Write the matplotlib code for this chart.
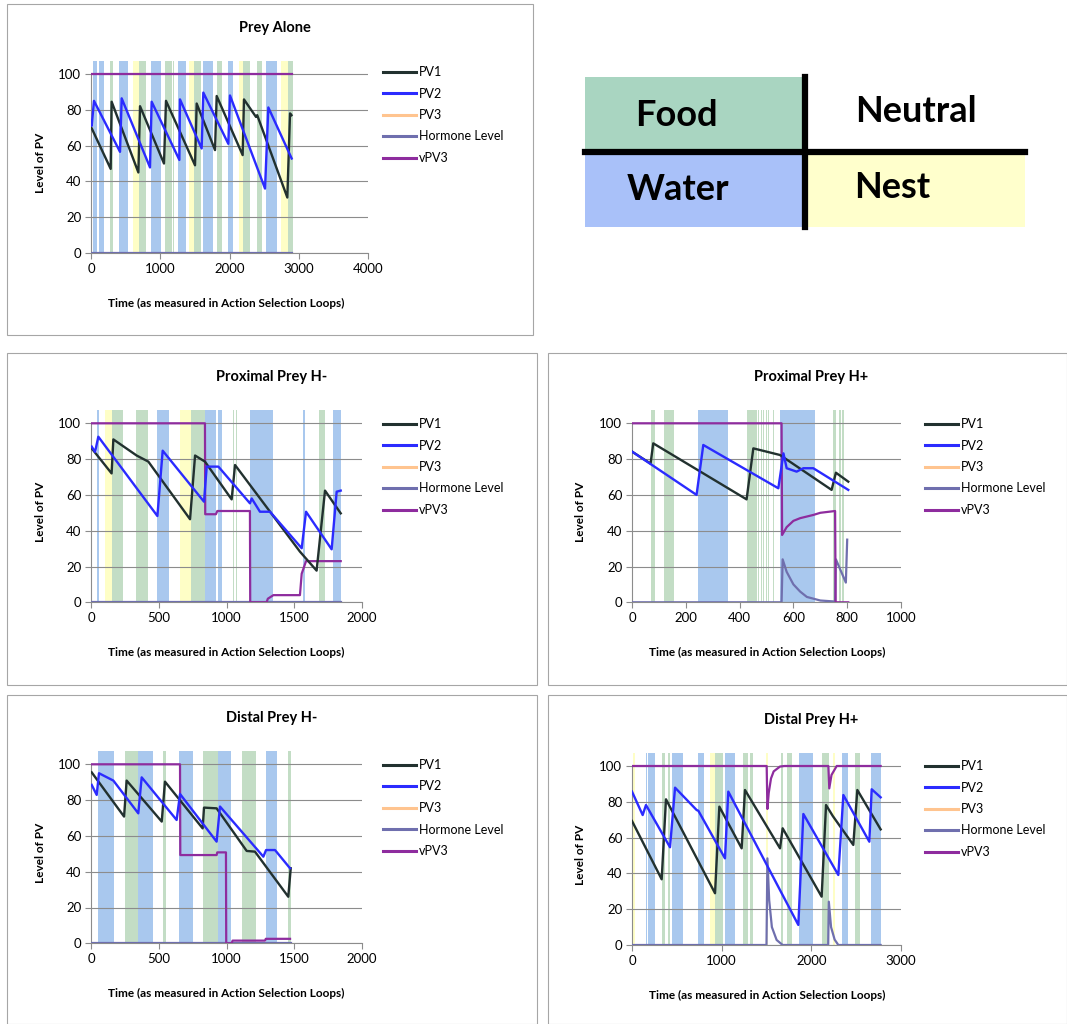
import numpy as np
import matplotlib
matplotlib.use("Agg")
import matplotlib.pyplot as plt
from matplotlib.lines import Line2D
from matplotlib.patches import Rectangle

plt.rcParams['font.family'] = ['Lato', 'DejaVu Sans']

# ---------------- data ----------------
series_names = ["PV1", "PV2", "PV3", "Hormone Level", "vPV3"]
series_colors = ["#22312f", "#2b2bff", "#ffc48f", "#6f6fae", "#8e2c9e"]
band_colors = {"W": "#a9c8ee", "F": "#c3ddc5", "N": "#fefec6"}

# Prey Alone
alone_pv1 = [(0, 70.5), (284, 47), (298, 84.5), (684, 45), (708, 82), (1054, 50), (1083, 85),
             (1502, 49), (1526, 83.5), (1791, 57.5), (1815, 87.7), (2190, 54.7), (2209, 85.8),
             (2383, 76), (2400, 77), (2835, 31), (2874, 78), (2895, 77)]
alone_pv2 = [(0, 74), (10, 71), (43, 85), (419, 56.5), (443, 86.4), (852, 47.8), (876, 84.5),
             (1276, 52), (1285, 85.8), (1598, 58.4), (1622, 89.6), (1983, 61), (2007, 88),
             (2513, 36), (2561, 81.3), (2898, 52.8)]
alone_hormone = [(0, 0), (2898, 0)]
alone_vpv3 = [(0, 100), (2898, 100)]
alone_bands = [(33, 91, "W"), (120, 188, "W"), (274, 313, "F"), (409, 539, "W"), (602, 698, "N"),
               (698, 794, "F"), (862, 1006, "W"), (1069, 1165, "F"), (1189, 1203, "F"),
               (1261, 1372, "W"), (1420, 1487, "N"), (1487, 1584, "F"), (1613, 1766, "W"),
               (1815, 1887, "F"), (1974, 2055, "W"), (2142, 2200, "N"), (2200, 2296, "F"),
               (2393, 2465, "F"), (2527, 2681, "W"), (2744, 2850, "N"), (2850, 2912, "F")]

# Proximal Prey H-
proxm_pv1 = [(5, 86), (152, 72), (165, 91), (337, 82), (423, 78.6), (731, 46.4), (768, 82),
             (841, 78.6), (1038, 57.5), (1063, 76.7), (1542, 28.3), (1665, 17.7), (1727, 62.4),
             (1843, 49.7)]
proxm_pv2 = [(5, 87), (30, 84), (54, 92.5), (490, 48.2), (529, 84.7), (834, 56.2), (854, 75.8),
             (940, 75.8), (1173, 55.3), (1186, 58), (1247, 50.6), (1321, 50.6), (1555, 30.2),
             (1587, 50.6), (1776, 29.6), (1813, 61.8), (1843, 62.4)]
proxm_hormone = [(0, 0), (1843, 0)]
proxm_vpv3 = [(0, 100), (841, 100), (843, 49.2), (922, 49.2), (932, 51), (1173, 51), (1175, 0),
              (1296, 0), (1305, 2), (1346, 4), (1542, 4), (1555, 16), (1587, 23), (1843, 23)]
proxm_bands = [(42, 59, "W"), (103, 153, "N"), (153, 234, "F"), (332, 423, "F"), (490, 578, "W"),
               (657, 738, "N"), (738, 841, "F"), (841, 922, "W"), (935, 964, "W"),
               (1045, 1055, "F"), (1070, 1080, "F"), (1173, 1346, "W"), (1562, 1579, "W"),
               (1680, 1690, "F"), (1690, 1727, "F"), (1788, 1843, "W")]

# Proximal Prey H+
proxp_pv1 = [(0, 84.2), (69, 77.5), (79, 88.8), (426, 57.5), (451, 86), (550, 82.3), (742, 62.8),
             (758, 72.4), (804, 67.4)]
proxp_pv2 = [(0, 84.2), (240, 60), (265, 87.9), (544, 63.7), (563, 83.2), (575, 74.9), (612, 73),
             (637, 74.9), (674, 74.9), (804, 62.8)]
proxp_hormone = [(0, 0), (556, 0), (560, 24), (575, 17), (600, 10), (625, 6), (650, 3),
                 (700, 1), (748, 0.5), (755, 0), (758, 24), (795, 11), (800, 35)]
proxp_vpv3 = [(0, 100), (556, 100), (558, 37.6), (575, 42), (600, 45.5), (625, 47), (674, 48.8),
              (700, 50), (755, 51), (757, 0), (804, 0)]
proxp_bands = [(69, 85, "F"), (120, 156, "F"), (244, 356, "W"), (426, 463, "F"), (469, 472, "F"),
               (479, 482, "F"), (488, 491, "F"), (497, 500, "F"), (507, 510, "F"),
               (515, 518, "F"), (524, 527, "F"), (534, 537, "F"), (550, 680, "W"),
               (748, 758, "F"), (770, 776, "F"), (782, 788, "F")]

# Distal Prey H-
distm_pv1 = [(5, 95.5), (244, 70.8), (263, 90.9), (522, 68), (546, 90.3), (824, 64.2),
             (834, 75.8), (927, 75.4), (1149, 51.6), (1210, 51.2), (1456, 26), (1474, 41.9)]
distm_pv2 = [(5, 88.5), (42, 82.9), (59, 95), (165, 90.9), (349, 72.6), (374, 92.7), (632, 68.9),
             (657, 83.4), (927, 56.8), (952, 76.4), (1272, 48.4), (1292, 52.1), (1358, 52.1),
             (1469, 41.9)]
distm_hormone = [(0, 0), (1474, 0)]
distm_vpv3 = [(0, 100), (657, 100), (659, 49.3), (927, 49.3), (932, 50.8), (996, 50.8), (998, 0),
              (1038, 0), (1045, 1.5), (1284, 1.5), (1290, 2.5), (1469, 2.5)]
distm_bands = [(49, 172, "W"), (251, 344, "F"), (349, 460, "W"), (529, 553, "F"), (649, 750, "W"),
               (824, 940, "F"), (940, 1033, "W"), (1112, 1215, "F"), (1292, 1370, "W"),
               (1456, 1474, "F")]

# Distal Prey H+
distp_pv1 = [(0, 69.3), (331, 36.7), (379, 81.4), (926, 28.9), (974, 77.3), (1223, 54),
             (1260, 86.6), (1651, 54), (1680, 65.2), (2115, 27), (2164, 78.2), (2240, 72),
             (2468, 55.9), (2513, 86.6), (2773, 64.6)]
distp_pv2 = [(0, 85.7), (119, 72.6), (156, 78.2), (424, 54.6), (480, 87.9), (721, 75.4),
             (740, 75), (1037, 48.4), (1074, 85.7), (1855, 11.2), (1911, 73.2), (2301, 39.1),
             (2357, 83.8), (2647, 57.7), (2673, 87), (2773, 82.5)]
distp_hormone = [(0, 0), (1500, 0), (1510, 48.4), (1530, 25), (1560, 10), (1613, 2.8),
                 (1680, 0), (2188, 0), (2195, 24.2), (2220, 10), (2260, 3), (2301, 0), (2773, 0)]
distp_vpv3 = [(0, 100), (1502, 100), (1510, 76), (1525, 85), (1550, 93), (1580, 97),
              (1651, 99.7), (1700, 100), (2190, 100), (2200, 87.5), (2225, 95), (2283, 100),
              (2773, 100)]
distp_bands = [(15, 33, "N"), (156, 171, "W"), (182, 257, "W"), (331, 368, "F"), (405, 424, "F"),
               (442, 565, "W"), (732, 803, "W"), (870, 926, "N"), (926, 1019, "F"),
               (1037, 1149, "W"), (1242, 1297, "F"), (1316, 1353, "F"), (1494, 1513, "N"),
               (1662, 1688, "F"), (1725, 1781, "F"), (1862, 2022, "W"), (2115, 2201, "F"),
               (2245, 2264, "N"), (2338, 2405, "W"), (2487, 2543, "F"), (2662, 2773, "W")]

W, H = 1067, 1024
fig = plt.figure(figsize=(W / 100, H / 100), dpi=100)


def fx(x):
    return x / W


def fy(y):
    return 1 - y / H


def panel(box, frame, xmax, xstep, title, bands, pv1, pv2, hormone, vpv3, legend_xy):
    l, r, b = box
    top = b - 107.5 * 1.79
    ax = fig.add_axes([fx(l), fy(b), fx(r) - fx(l), (b - top) / H])
    for s, e, k in bands:
        ax.axvspan(s, e, color=band_colors[k], lw=0, zorder=0.5)
    for pts, c, lw in [(hormone, series_colors[3], 1.6), (vpv3, series_colors[4], 1.6),
                       (pv1, series_colors[0], 1.7), (pv2, series_colors[1], 1.7)]:
        xs, ys = zip(*pts)
        ax.plot(xs, ys, color=c, lw=lw, zorder=3)
    ax.set_xlim(0, xmax)
    ax.set_ylim(0, 107.5)
    ax.set_xticks(np.arange(0, xmax + 1, xstep))
    ax.set_yticks(range(0, 101, 20))
    ax.yaxis.grid(True, color="#8c8c8c", lw=0.8)
    ax.set_axisbelow("line")
    for s in ["top", "right"]:
        ax.spines[s].set_visible(False)
    for s in ["left", "bottom"]:
        ax.spines[s].set_color("#8c8c8c")
        ax.spines[s].set_linewidth(0.8)
    ax.spines["left"].set_bounds(0, 100)
    ax.tick_params(direction="out", length=4, color="#8c8c8c", labelsize=9.5, pad=3)
    ax.patch.set_alpha(0)

    fl, ft, fr, fb = frame
    fig.add_artist(Rectangle((fx(fl), fy(fb)), fx(fr) - fx(fl), fy(ft) - fy(fb),
                             transform=fig.transFigure, fill=False, ec="#a6a6a6", lw=0.8))
    cx = (l + r) / 2
    fig.text(fx(cx + 45), fy(b - 225), title, ha="center", va="center",
             fontsize=10.5, fontweight="bold")
    fig.text(fx(l - 51), fy(b - 90), "Level of PV", rotation=90, ha="center", va="center",
             fontsize=8.5, fontweight="bold")
    fig.text(fx(l + 135), fy(b + 50), "Time (as measured in Action Selection Loops)",
             ha="center", va="center", fontsize=8.5, fontweight="bold")

    handles = [Line2D([], [], color=c, lw=2.2) for c in series_colors]
    lx, ly = legend_xy
    ax.legend(handles, series_names, loc="upper left", bbox_to_anchor=(fx(lx), fy(ly)),
              bbox_transform=fig.transFigure, frameon=False, fontsize=9, handlelength=2.6,
              handletextpad=0.3, labelspacing=0.76, borderpad=0, borderaxespad=0)
    return ax


panel((91, 368, 253), (7, 4, 533, 335), 4000, 1000, "Prey Alone", alone_bands,
      alone_pv1, alone_pv2, alone_hormone, alone_vpv3, (383, 66))
panel((91, 362, 602.3), (7, 353, 537, 685), 2000, 500, "Proximal Prey H-", proxm_bands,
      proxm_pv1, proxm_pv2, proxm_hormone, proxm_vpv3, (383, 418))
panel((632, 901, 602.3), (548, 353, 1067, 685), 1000, 200, "Proximal Prey H+", proxp_bands,
      proxp_pv1, proxp_pv2, proxp_hormone, proxp_vpv3, (925, 418))
panel((91, 362, 943.3), (7, 695, 537, 1024), 2000, 500, "Distal Prey H-", distm_bands,
      distm_pv1, distm_pv2, distm_hormone, distm_vpv3, (383, 759))
panel((632, 901, 945), (548, 695, 1067, 1024), 3000, 1000, "Distal Prey H+", distp_bands,
      distp_pv1, distp_pv2, distp_hormone, distp_vpv3, (925, 760))

# key box
key_cells = [((585, 77, 803, 152), "#a9d5c1", "Food", (676, 116)),
             ((806, 77, 1025, 152), "white", "Neutral", (916, 111)),
             ((585, 152, 803, 227), "#a9c1f9", "Water", (678, 190)),
             ((806, 152, 1025, 227), "#ffffcc", "Nest", (892, 188))]
for (x0, y0, x1, y1), col, lab, (tx, ty) in key_cells:
    fig.add_artist(Rectangle((fx(x0), fy(y1)), fx(x1) - fx(x0), fy(y0) - fy(y1),
                             transform=fig.transFigure, color=col, lw=0))
    fig.text(fx(tx), fy(ty), lab, ha="center", va="center", fontsize=26, fontweight="bold")
fig.add_artist(Line2D([fx(585), fx(1025)], [fy(152), fy(152)], color="black", lw=4.5,
                      transform=fig.transFigure))
fig.add_artist(Line2D([fx(805), fx(805)], [fy(77), fy(227)], color="black", lw=4.5,
                      transform=fig.transFigure))

fig.savefig("out.png", dpi=100)
